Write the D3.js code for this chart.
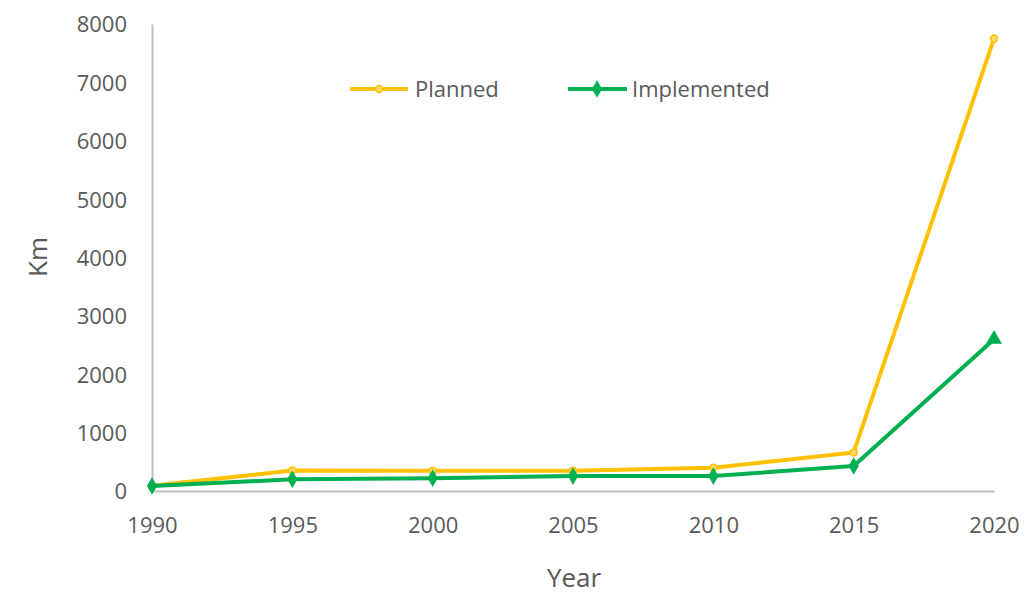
<!DOCTYPE html>
<html>
<head>
<meta charset="utf-8">
<script src="https://cdn.jsdelivr.net/npm/d3@7/dist/d3.min.js"></script>
<style>
  body { margin: 0; background: #fff; }
  text { font-family: "Open Sans", Lato, sans-serif; fill: #595959; }
</style>
</head>
<body>
<script>
var years = [1990, 1995, 2000, 2005, 2010, 2015, 2020]
var planned = [90, 350, 345, 345, 400, 660, 7750]
var implemented = [85, 200, 220, 255, 255, 430, 2600]
var yTicks = [0, 1000, 2000, 3000, 4000, 5000, 6000, 7000, 8000]

var options = {
  width: 1030,
  height: 594,
  left: 152,
  right: 994,
  top: 24,
  bottom: 491
}

var svg = d3.select('body').append('svg')
  .attr('width', options.width)
  .attr('height', options.height)

var x = d3.scaleLinear().domain([1990, 2020]).range([options.left, options.right])
var y = d3.scaleLinear().domain([0, 8000]).range([options.bottom, options.top])

// axes
var yAxis = svg.append('g')
  .attr('transform', 'translate(' + options.left + ',0)')
  .call(d3.axisLeft(y).tickValues(yTicks).tickFormat(d3.format('d')).tickSize(0).tickPadding(25))
yAxis.select('.domain').attr('stroke', '#bfbfbf').attr('stroke-width', 2)
yAxis.selectAll('text').style('font-size', '22px').attr('dy', '0.36em')

var xAxis = svg.append('g')
  .attr('transform', 'translate(0,' + options.bottom + ')')
  .call(d3.axisBottom(x).tickValues(years).tickFormat(d3.format('d')).tickSize(0).tickPadding(42))
xAxis.select('.domain').attr('stroke', '#bfbfbf').attr('stroke-width', 2)
xAxis.selectAll('text').style('font-size', '22px').attr('dy', '0')

// axis titles
svg.append('text')
  .attr('transform', 'translate(38,257) rotate(-90)')
  .attr('text-anchor', 'middle')
  .attr('dy', '0.35em')
  .style('font-size', '26px')
  .text('Km')

svg.append('text')
  .attr('x', 574).attr('y', 587)
  .attr('text-anchor', 'middle')
  .style('font-size', '26px')
  .text('Year')

var line = d3.line()
  .x(function(d) { return x(d.year) })
  .y(function(d) { return y(d.value) })

function series(values) {
  return years.map(function(yr, i) { return { year: yr, value: values[i] } })
}

var plannedData = series(planned)
var implData = series(implemented)

var gold = '#FFC000'
var green = '#00B050'

svg.append('path').datum(plannedData)
  .attr('d', line).attr('fill', 'none').attr('stroke', gold).attr('stroke-width', 4)
  .attr('stroke-linejoin', 'round')

svg.selectAll('circle.planned').data(plannedData).enter().append('circle')
  .attr('class', 'planned')
  .attr('cx', function(d) { return x(d.year) })
  .attr('cy', function(d) { return y(d.value) })
  .attr('r', 3.5)
  .attr('fill', '#ffd966').attr('stroke', gold).attr('stroke-width', 1.5)

svg.append('path').datum(implData)
  .attr('d', line).attr('fill', 'none').attr('stroke', green).attr('stroke-width', 4)
  .attr('stroke-linejoin', 'round')

var diamond = d3.symbol().type(d3.symbolDiamond).size(90)
var triangle = d3.symbol().type(d3.symbolTriangle).size(110)

svg.selectAll('path.impl').data(implData).enter().append('path')
  .attr('class', 'impl')
  .attr('d', function(d, i) { return i === implData.length - 1 ? triangle() : diamond() })
  .attr('transform', function(d) { return 'translate(' + x(d.year) + ',' + y(d.value) + ')' })
  .attr('fill', green)

// legend
var legend = svg.append('g')
legend.append('line').attr('x1', 350).attr('x2', 408).attr('y1', 89).attr('y2', 89)
  .attr('stroke', gold).attr('stroke-width', 4)
legend.append('circle').attr('cx', 379).attr('cy', 89).attr('r', 3.5)
  .attr('fill', '#ffd966').attr('stroke', gold).attr('stroke-width', 1.5)
legend.append('text').attr('x', 415).attr('y', 89).attr('dy', '0.36em')
  .style('font-size', '22px').text('Planned')

legend.append('line').attr('x1', 568).attr('x2', 627).attr('y1', 89).attr('y2', 89)
  .attr('stroke', green).attr('stroke-width', 4)
legend.append('path').attr('d', diamond()).attr('transform', 'translate(597,89)')
  .attr('fill', green)
legend.append('text').attr('x', 632).attr('y', 89).attr('dy', '0.36em')
  .style('font-size', '22px').text('Implemented')
</script>
</body>
</html>
